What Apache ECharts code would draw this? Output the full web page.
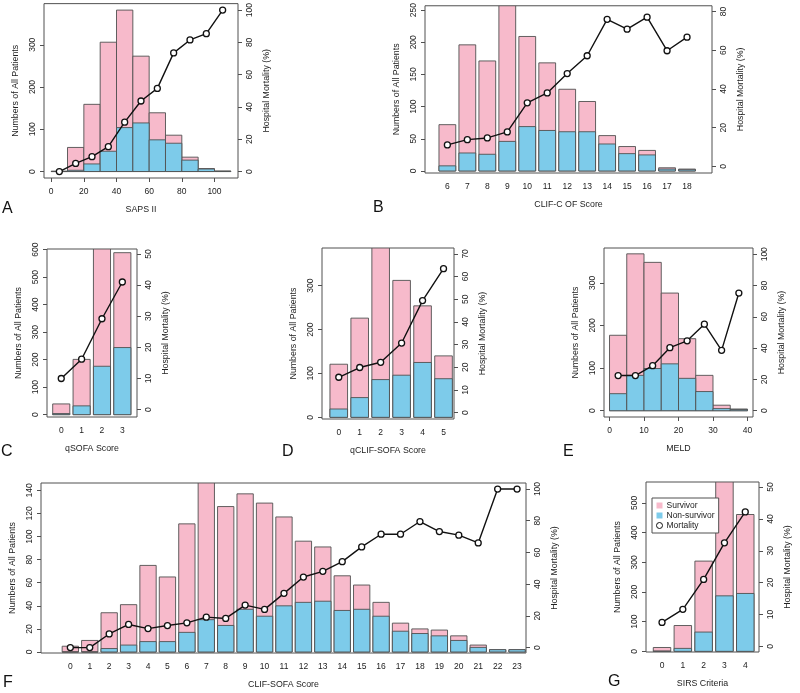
<!DOCTYPE html>
<html><head><meta charset="utf-8">
<script src="https://cdn.jsdelivr.net/npm/echarts@6/dist/echarts.min.js"></script>
<style>html,body{margin:0;padding:0;background:#fff}#c{width:800px;height:693px}</style>
</head><body><div id="c"></div>
<script>
// ---------- A: SAPS II (histogram, bin width 10) ----------
const sapsBins = [0, 10, 20, 30, 40, 50, 60, 70, 80, 90, 100];
const sapsBinWidth = 10;
const sapsTotal = [1, 57, 159, 306, 382, 273, 139, 86, 34, 7, 1];
const sapsDeaths = [0, 3, 18, 48, 104, 115, 75, 67, 27, 6, 1];
const sapsMortality = [0, 5.0, 9.2, 15.4, 30.6, 43.7, 51.5, 73.5, 81.5, 85.4, 100];
const sapsXTicks = [0, 20, 40, 60, 80, 100];
const sapsCountTicks = [0, 100, 200, 300];
const sapsMortTicks = [0, 20, 40, 60, 80, 100];

// ---------- B: CLIF-C OF Score ----------
const clifcofCats = ['6', '7', '8', '9', '10', '11', '12', '13', '14', '15', '16', '17', '18'];
const clifcofTotal = [72, 196, 171, 260, 209, 168, 127, 108, 55, 38, 32, 5, 3];
const clifcofDeaths = [8, 28, 26, 46, 69, 63, 61, 61, 42, 27, 25, 3, 2];
const clifcofMortality = [11.1, 13.8, 14.7, 17.8, 32.8, 37.9, 47.9, 57.1, 75.9, 70.8, 77.0, 59.7, 66.7];
const clifcofCountTicks = [0, 50, 100, 150, 200, 250];
const clifcofMortTicks = [0, 20, 40, 60, 80];

// ---------- C: qSOFA Score ----------
const qsofaCats = ['0', '1', '2', '3'];
const qsofaTotal = [39, 201, 605, 589];
const qsofaDeaths = [4, 32, 176, 244];
const qsofaMortality = [10.0, 16.2, 29.2, 41.0];
const qsofaCountTicks = [0, 100, 200, 300, 400, 500, 600];
const qsofaMortTicks = [0, 10, 20, 30, 40, 50];

// ---------- D: qCLIF-SOFA Score ----------
const qclifCats = ['0', '1', '2', '3', '4', '5'];
const qclifTotal = [121, 226, 390, 312, 254, 140];
const qclifDeaths = [19, 45, 86, 96, 125, 88];
const qclifMortality = [15.6, 19.9, 22.2, 30.7, 49.4, 63.5];
const qclifCountTicks = [0, 100, 200, 300];
const qclifMortTicks = [0, 10, 20, 30, 40, 50, 60, 70];

// ---------- E: MELD (histogram, bin width 5) ----------
const meldBins = [0, 5, 10, 15, 20, 25, 30, 35];
const meldBinWidth = 5;
const meldTotal = [177, 368, 348, 276, 169, 83, 13, 4];
const meldDeaths = [40, 83, 99, 110, 76, 45, 5, 3];
const meldMortality = [22.5, 22.5, 28.8, 40.3, 44.7, 55.3, 38.6, 75.2];
const meldXTicks = [0, 10, 20, 30, 40];
const meldCountTicks = [0, 100, 200, 300];
const meldMortTicks = [0, 20, 40, 60, 80, 100];

// ---------- F: CLIF-SOFA Score ----------
const clifsofaCats = ['0','1','2','3','4','5','6','7','8','9','10','11','12','13','14','15','16','17','18','19','20','21','22','23'];
const clifsofaTotal = [5, 10, 34, 41, 75, 65, 111, 148, 126, 137, 129, 117, 96, 91, 66, 58, 43, 25, 20, 19, 14, 6, 2, 2];
const clifsofaDeaths = [0, 0, 3, 6, 9, 9, 17, 28, 23, 37, 31, 40, 43, 44, 36, 37, 31, 18, 16, 14, 10, 4, 2, 2];
const clifsofaMortality = [0, 0, 8.6, 14.6, 12.0, 13.9, 15.6, 19.2, 18.4, 26.8, 24.1, 34.2, 44.5, 48.1, 54.2, 63.5, 71.5, 71.5, 79.5, 73.2, 70.9, 66.0, 100, 100];
const clifsofaCountTicks = [0, 20, 40, 60, 80, 100, 120, 140];
const clifsofaMortTicks = [0, 20, 40, 60, 80, 100];

// ---------- G: SIRS Criteria ----------
const sirsCats = ['0', '1', '2', '3', '4'];
const sirsTotal = [13, 87, 304, 576, 461];
const sirsDeaths = [1, 10, 65, 187, 195];
const sirsMortality = [7.5, 11.6, 21.0, 32.5, 42.2];
const sirsCountTicks = [0, 100, 200, 300, 400, 500];
const sirsMortTicks = [0, 10, 20, 30, 40, 50];

const legendNames = ['Survivor', 'Non-survivor', 'Mortality'];

// ---------- styling ----------
const FONT = "'Liberation Sans Narrow','Arial Narrow','Liberation Sans',Arial,sans-serif";
const PINK = '#F7BACB', BLUE = '#7DCBEA', EDGE = '#505050', INK = '#222';
const BAR_HALF = 0.42;
const TICK_FS = 8.5, NAME_FS = 8.8;

const grids = [], xAxes = [], yAxes = [], series = [], titles = [];

function barRenderer(color) {
  return function (params, api) {
    const x0 = api.value(0), x1 = api.value(1), v = api.value(2);
    const a = api.coord([x0, 0]);
    const b = api.coord([x1, v]);
    const cs = params.coordSys;
    const top = Math.max(b[1], cs.y);
    return {
      type: 'rect',
      shape: { x: a[0], y: top, width: b[0] - a[0], height: a[1] - top },
      style: { fill: color, stroke: EDGE, lineWidth: 0.9 }
    };
  };
}

function addPanel(p) {
  const k = grids.length;
  grids.push({ left: p.box[0], top: p.box[1], width: p.box[2], height: p.box[3],
    show: true, borderColor: EDGE, borderWidth: 1, backgroundColor: 'transparent' });
  xAxes.push({
    type: 'value', gridIndex: k, min: p.xr[0], max: p.xr[1], position: 'bottom',
    axisLine: { show: false, onZero: false }, splitLine: { show: false },
    axisTick: { show: p.xTickShow, customValues: p.xTicks, length: 4, lineStyle: { color: EDGE } },
    axisLabel: { customValues: p.xTicks, formatter: p.xFmt, margin: p.xTickShow ? 9 : 9,
      fontSize: TICK_FS, color: INK, fontFamily: FONT },
    name: p.xName, nameLocation: 'middle', nameGap: 27,
    nameTextStyle: { fontSize: NAME_FS, color: INK, fontFamily: FONT }
  });
  const yAx = (pos, rng, ticks, name) => ({
    type: 'value', gridIndex: k, position: pos, min: rng[0], max: rng[1],
    axisLine: { show: false, onZero: false }, splitLine: { show: false },
    axisTick: { show: true, customValues: ticks, length: 4, lineStyle: { color: EDGE } },
    axisLabel: { customValues: ticks, rotate: 90, margin: 7, fontSize: TICK_FS, color: INK, fontFamily: FONT },
    name: name, nameLocation: 'middle', nameGap: 24, nameRotate: 90,
    nameTextStyle: { fontSize: NAME_FS, color: INK, fontFamily: FONT }
  });
  yAxes.push(yAx('left', p.yl, p.ylTicks, 'Numbers of All Patients'));
  yAxes.push(yAx('right', p.yr, p.yrTicks, 'Hospital Mortality (%)'));
  const yl = 2 * k, yr = 2 * k + 1;
  const clamp = (v) => Math.min(v, p.yl[1]);
  series.push({
    type: 'custom', name: legendNames[0], xAxisIndex: k, yAxisIndex: yl, clip: true, z: 2,
    renderItem: barRenderer(PINK), itemStyle: { color: PINK },
    data: p.total.map((t, i) => [p.x0[i], p.x1[i], clamp(t)]), encode: { x: [0, 1], y: 2 }
  });
  series.push({
    type: 'custom', name: legendNames[1], xAxisIndex: k, yAxisIndex: yl, clip: true, z: 3,
    renderItem: barRenderer(BLUE), itemStyle: { color: BLUE },
    data: p.deaths.map((d, i) => [p.x0[i], p.x1[i], clamp(d)]), encode: { x: [0, 1], y: 2 }
  });
  series.push({
    type: 'line', name: legendNames[2], xAxisIndex: k, yAxisIndex: yr, z: 5,
    data: p.mx.map((x, i) => [x, p.mort[i]]),
    symbol: 'circle', symbolSize: 6, showAllSymbol: true,
    itemStyle: { color: '#fff', borderColor: '#111', borderWidth: 1.3 },
    lineStyle: { color: '#111', width: 1.4 }
  });
  titles.push({ text: p.letter, left: p.letterPos[0], top: p.letterPos[1], padding: 0,
    textStyle: { fontSize: 16, fontWeight: 'normal', color: '#111', fontFamily: FONT } });
}

function catPanel(cats) {
  const idx = cats.map((c, i) => i);
  return { x0: idx.map(i => i - BAR_HALF), x1: idx.map(i => i + BAR_HALF), mx: idx,
    xTicks: idx, xFmt: (v) => cats[Math.round(v)], xTickShow: false };
}
function histPanel(bins, w, ticks) {
  return { x0: bins, x1: bins.map(b => b + w), mx: bins.map(b => b + w / 2),
    xTicks: ticks, xFmt: (v) => String(v), xTickShow: true };
}

addPanel(Object.assign(histPanel(sapsBins, sapsBinWidth, sapsXTicks), {
  letter: 'A', letterPos: [2, 201], box: [44, 3, 194, 175], xr: [-4.4, 114.4],
  yl: [-15.3, 397.3], yr: [-4, 104], total: sapsTotal, deaths: sapsDeaths, mort: sapsMortality,
  ylTicks: sapsCountTicks, yrTicks: sapsMortTicks, xName: 'SAPS II' }));

addPanel(Object.assign(catPanel(clifcofCats), {
  letter: 'B', letterPos: [373, 200], box: [425, 5, 287, 168], xr: [-1.12, 13.25],
  yl: [-3.1, 256.7], yr: [-3.4, 82.9], total: clifcofTotal, deaths: clifcofDeaths, mort: clifcofMortality,
  ylTicks: clifcofCountTicks, yrTicks: clifcofMortTicks, xName: 'CLIF-C OF Score' }));

addPanel(Object.assign(catPanel(qsofaCats), {
  letter: 'C', letterPos: [1, 444], box: [47, 249, 90, 168], xr: [-0.70, 3.72],
  yl: [-8.5, 602.4], yr: [-2.36, 51.6], total: qsofaTotal, deaths: qsofaDeaths, mort: qsofaMortality,
  ylTicks: qsofaCountTicks, yrTicks: qsofaMortTicks, xName: 'qSOFA Score' }));

addPanel(Object.assign(catPanel(qclifCats), {
  letter: 'D', letterPos: [282, 444], box: [322, 248, 132, 171], xr: [-0.80, 5.5],
  yl: [-3.8, 385.8], yr: [-2.8, 72.6], total: qclifTotal, deaths: qclifDeaths, mort: qclifMortality,
  ylTicks: qclifCountTicks, yrTicks: qclifMortTicks, xName: 'qCLIF-SOFA Score' }));

addPanel(Object.assign(histPanel(meldBins, meldBinWidth, meldXTicks), {
  letter: 'E', letterPos: [563, 444], box: [604, 248, 149, 169], xr: [-1.6, 41.6],
  yl: [-14.7, 381.7], yr: [-4, 104], total: meldTotal, deaths: meldDeaths, mort: meldMortality,
  ylTicks: meldCountTicks, yrTicks: meldMortTicks, xName: 'MELD' }));

addPanel(Object.assign(catPanel(clifsofaCats), {
  letter: 'F', letterPos: [3, 675], box: [39, 483, 487, 170], xr: [-1.51, 23.46],
  yl: [-0.87, 146.4], yr: [-3.4, 103.8], total: clifsofaTotal, deaths: clifsofaDeaths, mort: clifsofaMortality,
  ylTicks: clifsofaCountTicks, yrTicks: clifsofaMortTicks, xName: 'CLIF-SOFA Score' }));

addPanel(Object.assign(catPanel(sirsCats), {
  letter: 'G', letterPos: [608, 674], box: [646, 482, 113, 170], xr: [-0.77, 4.66],
  yl: [-2.2, 570.5], yr: [-1.8, 51.6], total: sirsTotal, deaths: sirsDeaths, mort: sirsMortality,
  ylTicks: sirsCountTicks, yrTicks: sirsMortTicks, xName: 'SIRS Criteria' }));

const chart = echarts.init(document.getElementById('c'), null, { renderer: 'canvas' });
chart.setOption({
  backgroundColor: '#fff',
  animation: false,
  title: titles,
  grid: grids, xAxis: xAxes, yAxis: yAxes, series: series,
  legend: {
    orient: 'vertical', left: 652, top: 498, padding: [3, 4], itemGap: 1,
    itemWidth: 6, itemHeight: 6, backgroundColor: '#fff', borderColor: EDGE, borderWidth: 1, borderRadius: 0,
    selectedMode: false,
    textStyle: { fontSize: 8.5, color: INK, fontFamily: FONT, padding: [0, 0, 0, -1] },
    data: [
      { name: legendNames[0], icon: 'rect', itemStyle: { color: PINK, borderWidth: 0 } },
      { name: legendNames[1], icon: 'rect', itemStyle: { color: BLUE, borderWidth: 0 } },
      { name: legendNames[2], icon: 'circle', itemStyle: { color: '#fff', borderColor: '#111', borderWidth: 1 } }
    ]
  }
});
</script></body></html>
